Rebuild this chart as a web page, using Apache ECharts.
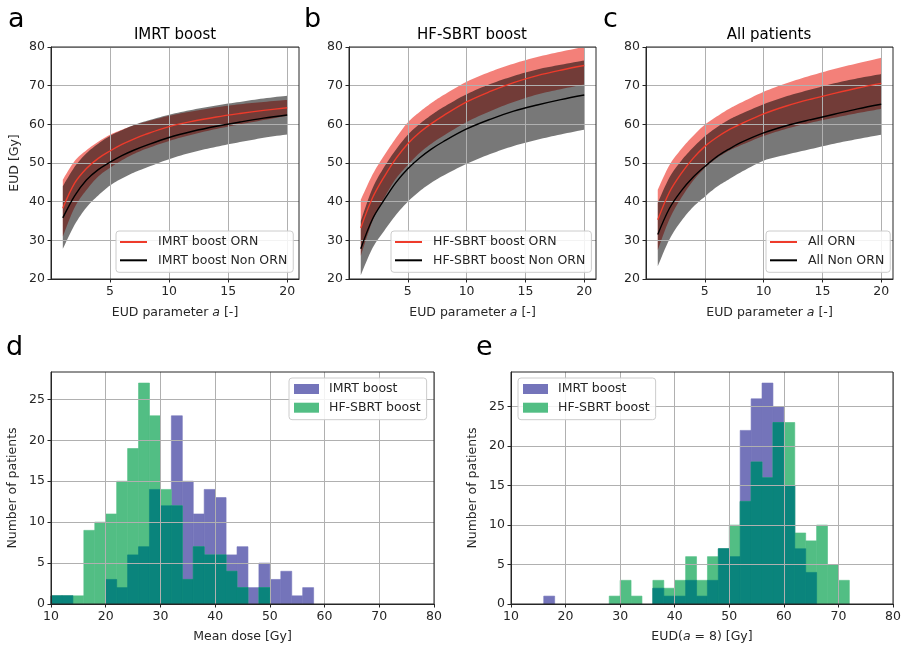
<!DOCTYPE html>
<html><head><meta charset="utf-8">
<script src="https://cdn.jsdelivr.net/npm/echarts@6/dist/echarts.min.js"></script>
<style>html,body{margin:0;padding:0;background:#fff}#c{width:907px;height:647px}</style>
</head><body><div id="c"></div><script>
// ---------- data: EUD vs parameter a ----------
const aParam = [1, 2, 3, 4, 5, 6, 7, 8, 10, 12, 14, 16, 18, 20];
// panel a: IMRT boost
const imrtOrnMean  = [38.3, 44.8, 48.6, 51.2, 53.1, 54.8, 56.2, 57.4, 59.4, 60.8, 61.9, 62.8, 63.6, 64.3];
const imrtOrnUp    = [45.7, 50.5, 53.3, 55.5, 57.3, 58.6, 59.7, 60.6, 62.2, 63.4, 64.4, 65.2, 65.8, 66.3];
const imrtOrnLo    = [31.0, 38.5, 43.0, 46.5, 48.8, 50.7, 52.3, 53.6, 55.7, 57.4, 58.8, 60.0, 61.1, 62.2];
const imrtNonMean  = [35.8, 41.5, 45.6, 48.3, 50.2, 51.9, 53.3, 54.5, 56.6, 58.2, 59.5, 60.6, 61.6, 62.4];
const imrtNonUp    = [44.0, 49.0, 52.5, 55.0, 57.0, 58.5, 59.8, 60.8, 62.5, 63.8, 64.9, 65.8, 66.7, 67.4];
const imrtNonLo    = [27.8, 34.0, 38.5, 41.6, 44.2, 46.0, 47.5, 48.7, 51.0, 52.8, 54.2, 55.4, 56.5, 57.4];
// panel b: HF-SBRT boost
const sbrtOrnMean  = [33.2, 41.0, 46.5, 51.2, 55.0, 57.9, 60.2, 62.2, 65.8, 68.5, 70.8, 72.6, 74.0, 75.2];
const sbrtOrnUp    = [40.5, 47.0, 52.0, 56.5, 60.5, 63.2, 65.5, 67.5, 71.0, 73.6, 75.7, 77.4, 78.8, 80.0];
const sbrtOrnLo    = [26.0, 35.0, 41.0, 46.0, 49.5, 52.6, 55.0, 57.0, 60.6, 63.4, 65.8, 67.7, 69.1, 70.3];
const sbrtNonMean  = [27.8, 35.5, 40.5, 45.0, 48.5, 51.3, 53.6, 55.5, 58.8, 61.3, 63.4, 65.0, 66.4, 67.6];
const sbrtNonUp    = [35.0, 43.5, 49.0, 53.5, 57.3, 60.1, 62.4, 64.4, 67.8, 70.4, 72.5, 74.2, 75.4, 76.5];
const sbrtNonLo    = [21.0, 28.0, 32.5, 36.6, 40.0, 42.7, 44.9, 46.7, 49.8, 52.3, 54.4, 56.0, 57.4, 58.6];
// panel c: All patients
const allOrnMean   = [35.3, 42.5, 47.3, 51.2, 54.3, 56.6, 58.5, 60.0, 62.7, 64.8, 66.5, 68.0, 69.4, 70.6];
const allOrnUp     = [43.1, 49.5, 53.6, 57.0, 59.9, 62.0, 63.9, 65.5, 68.4, 70.7, 72.6, 74.3, 75.8, 77.2];
const allOrnLo     = [27.5, 35.5, 41.0, 45.4, 48.7, 51.2, 53.1, 54.5, 57.0, 58.9, 60.4, 61.7, 62.9, 64.0];
const allNonMean   = [31.5, 38.3, 42.8, 46.3, 49.1, 51.6, 53.5, 55.2, 57.8, 59.7, 61.2, 62.6, 64.0, 65.2];
const allNonUp     = [39.7, 46.3, 50.6, 54.0, 56.9, 59.2, 61.1, 62.6, 65.2, 67.3, 69.0, 70.6, 71.9, 73.0];
const allNonLo     = [23.3, 30.3, 35.0, 38.6, 41.3, 43.8, 45.7, 47.5, 50.6, 52.2, 53.6, 55.0, 56.2, 57.3];

// ---------- data: histograms (left bin edges, bin width 2 Gy) ----------
const BIN_W = 2;
const dEdges = [10,12,14,16,18,20,22,24,26,28,30,32,34,36,38,40,42,44,46,48,50,52,54,56];
const dImrt  = [1,1,0,0,0,3,2,6,7,14,12,23,15,11,14,13,6,7,2,5,3,4,1,2];
const dHf    = [1,1,1,9,10,11,15,19,27,23,14,12,3,7,6,6,4,2,0,2,0,0,0,0];
const eEdges = [16,18,20,22,24,26,28,30,32,34,36,38,40,42,44,46,48,50,52,54,56,58,60,62,64,66,68,70];
const eImrt  = [1,0,0,0,0,0,0,0,0,0,2,1,1,3,1,3,7,6,22,26,28,25,15,7,4,0,0,0];
const eHf    = [0,0,0,0,0,0,1,3,1,0,3,2,3,6,3,6,7,10,13,18,16,23,23,9,8,10,5,3];

// ---------- tick labels ----------
const topXTicks = [5, 10, 15, 20];
const histYTicks = [0, 5, 10, 15, 20, 25];

// ---------- styles ----------
const FONT = 'DejaVu Sans';
const FS = 12.5;
const INK = '#262626';
const GRIDC = '#b0b0b0';
const RED_LINE = '#ee3b2b';
const RED_BAND = 'rgba(232,20,8,0.54)';
const GRAY_BAND = 'rgba(0,0,0,0.53)';
const PURPLE = '#7474ba';
const GREEN = '#52be84';
const TEAL = '#0a847c';

const chart = echarts.init(document.getElementById('c'), null, {renderer: 'canvas'});

const grids = [
  {left: 51, top: 47, width: 248, height: 232},
  {left: 349, top: 47, width: 247, height: 232},
  {left: 646, top: 47, width: 247, height: 232},
  {left: 51, top: 372, width: 383, height: 232},
  {left: 511, top: 372, width: 382, height: 232}
].map(g => Object.assign(g, {show: true, borderColor: INK, borderWidth: 1, backgroundColor: 'transparent', z: 5}));

const lab = {fontFamily: FONT, fontSize: FS, color: INK};
function baseAxis(i) {
  return {
    gridIndex: i, type: 'value', z: 3,
    axisLine: {show: true, onZero: false, lineStyle: {color: INK, width: 1}},
    axisTick: {show: true, length: 3.5, lineStyle: {color: INK, width: 1}},
    splitLine: {show: true, lineStyle: {color: GRIDC, width: 1}},
    axisLabel: Object.assign({margin: 6}, lab),
    nameTextStyle: Object.assign({}, lab, {rich: {i: {fontFamily: FONT, fontSize: FS, fontStyle: 'italic', color: INK}}}),
    nameLocation: 'middle'
  };
}

const xAxes = [];
const yAxes = [];
for (let i = 0; i < 3; i++) {
  const x = baseAxis(i);
  Object.assign(x, {min: 0, max: 21, interval: 5, name: 'EUD parameter {i|a} [-]', nameGap: 27});
  x.axisTick.customValues = topXTicks;
  x.axisLabel.customValues = topXTicks;
  xAxes.push(x);
  const y = baseAxis(i);
  Object.assign(y, {min: 20, max: 80, interval: 10});
  if (i === 0) { y.name = 'EUD [Gy]'; y.nameGap = 30; }
  yAxes.push(y);
}
const histYMax = [28.35, 29.4];
const histXName = ['Mean dose [Gy]', 'EUD({i|a} = 8) [Gy]'];
for (let k = 0; k < 2; k++) {
  const i = 3 + k;
  const x = baseAxis(i);
  Object.assign(x, {min: 10, max: 80, interval: 10, name: histXName[k], nameGap: 26});
  xAxes.push(x);
  const y = baseAxis(i);
  Object.assign(y, {min: 0, max: histYMax[k], interval: 5, name: 'Number of patients', nameGap: 32});
  y.axisTick.customValues = histYTicks;
  y.axisLabel.customValues = histYTicks;
  yAxes.push(y);
}

function pairs(xs, ys) { return xs.map((x, i) => [x, ys[i]]); }
const SMOOTH = 0.35;

// Catmull-Rom smoothing of pixel points (rendering only)
function smoothPx(pts, steps) {
  const out = [];
  for (let i = 0; i < pts.length - 1; i++) {
    const p0 = pts[Math.max(i - 1, 0)], p1 = pts[i], p2 = pts[i + 1], p3 = pts[Math.min(i + 2, pts.length - 1)];
    for (let s = 0; s < steps; s++) {
      const t = s / steps, t2 = t * t, t3 = t2 * t;
      const f = (a, b, c, d) => 0.5 * ((2 * b) + (-a + c) * t + (2 * a - 5 * b + 4 * c - d) * t2 + (-a + 3 * b - 3 * c + d) * t3);
      out.push([f(p0[0], p1[0], p2[0], p3[0]), f(p0[1], p1[1], p2[1], p3[1])]);
    }
  }
  out.push(pts[pts.length - 1]);
  return out;
}

function band(id, idx, lower, upper, color) {
  return {type: 'custom', name: id, xAxisIndex: idx, yAxisIndex: idx,
          data: aParam.map((x, i) => [x, lower[i], upper[i]]),
          encode: {x: 0, y: [1, 2]}, clip: true, silent: true, z: 2, animation: false,
          renderItem: function (params, api) {
            if (params.dataIndex !== 0) return null;
            const up = aParam.map((x, i) => api.coord([x, upper[i]]));
            const lo = aParam.map((x, i) => api.coord([x, lower[i]]));
            const pts = smoothPx(up, 8).concat(smoothPx(lo, 8).reverse());
            return {type: 'polygon', shape: {points: pts}, style: {fill: color}};
          }};
}
function meanLine(name, idx, ys, color) {
  return {type: 'line', name: name, xAxisIndex: idx, yAxisIndex: idx, data: pairs(aParam, ys),
          smooth: SMOOTH, symbol: 'none', lineStyle: {color: color, width: 1.4},
          itemStyle: {color: color}, z: 4, animation: false};
}

function histRenderer(color) {
  return function (params, api) {
    const x0 = api.value(0), h = api.value(1);
    if (!h) return null;
    const p0 = api.coord([x0, 0]);
    const p1 = api.coord([x0 + BIN_W, h]);
    return {type: 'rect',
            shape: {x: p0[0], y: p1[1], width: p1[0] - p0[0], height: p0[1] - p1[1]},
            style: {fill: color, stroke: color, lineWidth: 0.6}};
  };
}
function hist(name, idx, edges, counts, color) {
  return {type: 'custom', name: name, xAxisIndex: idx, yAxisIndex: idx,
          data: pairs(edges, counts), renderItem: histRenderer(color),
          itemStyle: {color: color}, z: 2, silent: true, animation: false,
          encode: {x: 0, y: 1}};
}

const series = [
  band('a ORN band', 0, imrtOrnLo, imrtOrnUp, RED_BAND),
  band('a Non band', 0, imrtNonLo, imrtNonUp, GRAY_BAND),
  meanLine('IMRT boost ORN', 0, imrtOrnMean, RED_LINE),
  meanLine('IMRT boost Non ORN', 0, imrtNonMean, '#000'),
  band('b ORN band', 1, sbrtOrnLo, sbrtOrnUp, RED_BAND),
  band('b Non band', 1, sbrtNonLo, sbrtNonUp, GRAY_BAND),
  meanLine('HF-SBRT boost ORN', 1, sbrtOrnMean, RED_LINE),
  meanLine('HF-SBRT boost Non ORN', 1, sbrtNonMean, '#000'),
  band('c ORN band', 2, allOrnLo, allOrnUp, RED_BAND),
  band('c Non band', 2, allNonLo, allNonUp, GRAY_BAND),
  meanLine('All ORN', 2, allOrnMean, RED_LINE),
  meanLine('All Non ORN', 2, allNonMean, '#000'),
  hist('IMRT boost', 3, dEdges, dImrt, PURPLE),
  hist('HF-SBRT boost', 3, dEdges, dHf, GREEN),
  hist('d overlap', 3, dEdges, dImrt.map((v, i) => Math.min(v, dHf[i])), TEAL),
  hist('IMRT boost', 4, eEdges, eImrt, PURPLE),
  hist('HF-SBRT boost', 4, eEdges, eHf, GREEN),
  hist('e overlap', 4, eEdges, eImrt.map((v, i) => Math.min(v, eHf[i])), TEAL)
];

function lineLegend(names, left, top) {
  return {data: names, left: left, top: top, orient: 'vertical', icon: 'rect',
          itemWidth: 27, itemHeight: 2, itemGap: 4.3, padding: [4, 6, 5, 4],
          backgroundColor: 'rgba(255,255,255,0.85)', borderColor: '#cccccc', borderWidth: 1, borderRadius: 3,
          textStyle: {fontFamily: FONT, fontSize: FS, color: INK, lineHeight: 14, padding: [0, 0, 0, 6]},
          selectedMode: false, z: 10};
}
function histLegend(left, top) {
  return {data: ['IMRT boost', 'HF-SBRT boost'], left: left, top: top, orient: 'vertical', icon: 'rect',
          itemWidth: 25, itemHeight: 10, itemGap: 4.7, padding: [4, 6, 5, 5],
          backgroundColor: 'rgba(255,255,255,0.85)', borderColor: '#cccccc', borderWidth: 1, borderRadius: 3,
          textStyle: {fontFamily: FONT, fontSize: FS, color: INK, lineHeight: 14, padding: [0, 0, 0, 5]},
          selectedMode: false, z: 10};
}

function txt(text, x, y, size, align) {
  return {type: 'text', x: x, y: y, z: 20, silent: true,
          style: {text: text, fontFamily: FONT, fontSize: size, fill: '#000',
                  align: align, textAlign: align, verticalAlign: 'middle', textVerticalAlign: 'middle'}};
}

chart.setOption({
  animation: false,
  grid: grids,
  xAxis: xAxes,
  yAxis: yAxes,
  legend: [
    lineLegend(['IMRT boost ORN', 'IMRT boost Non ORN'], 116, 231),
    lineLegend(['HF-SBRT boost ORN', 'HF-SBRT boost Non ORN'], 391, 231),
    lineLegend(['All ORN', 'All Non ORN'], 766, 231),
    histLegend(289, 378),
    histLegend(518, 378)
  ],
  graphic: [
    txt('a', 8, 20, 27, 'left'),
    txt('b', 304, 20, 27, 'left'),
    txt('c', 603, 20, 27, 'left'),
    txt('d', 6, 348, 27, 'left'),
    txt('e', 476, 348, 27, 'left'),
    txt('IMRT boost', 175, 35, 15, 'center'),
    txt('HF-SBRT boost', 472, 35, 15, 'center'),
    txt('All patients', 769, 35, 15, 'center')
  ],
  series: series
});
</script></body></html>
